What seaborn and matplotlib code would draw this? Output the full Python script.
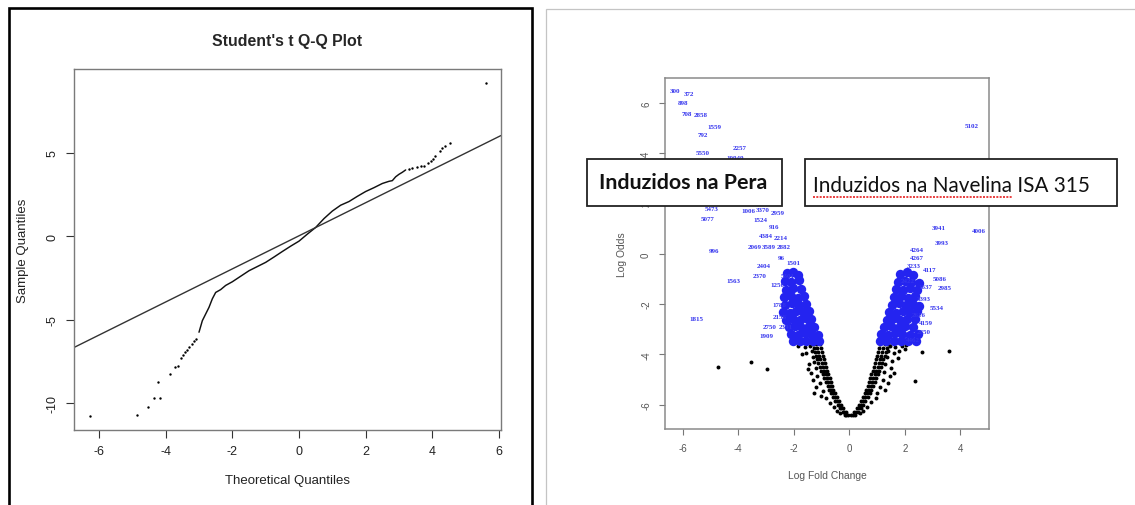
import matplotlib
matplotlib.use("Agg")
import matplotlib.pyplot as plt
import pandas as pd
import seaborn as sns
from matplotlib.patches import Rectangle
from matplotlib.lines import Line2D

sns.set_style("white")
plt.rcParams["font.family"] = ["Liberation Sans", "DejaVu Sans"]
plt.rcParams["axes.unicode_minus"] = False

# ---------------- Student's t Q-Q plot ----------------
qq_body_theo = [-3.0, -2.9, -2.8, -2.7, -2.6, -2.5, -2.35, -2.2, -2.0, -1.75, -1.5,
                -1.25, -1.0, -0.75, -0.5, -0.25, 0.0, 0.25, 0.5, 0.75, 1.0, 1.25,
                1.5, 1.75, 2.0, 2.25, 2.5, 2.7, 2.8, 2.9, 3.0, 3.1, 3.2]
qq_body_samp = [-5.75, -5.06, -4.66, -4.26, -3.75, -3.37, -3.2, -2.95, -2.73, -2.4,
                -2.07, -1.82, -1.57, -1.25, -0.92, -0.6, -0.3, 0.12, 0.52, 1.05,
                1.5, 1.85, 2.07, 2.38, 2.67, 2.9, 3.15, 3.28, 3.32, 3.55, 3.7, 3.82, 3.96]
qq_tail_theo = [-6.28, -4.86, -4.52, -4.34, -4.16, -4.23, -3.87, -3.72, -3.62, -3.55,
                -3.49, -3.42, -3.36, -3.3, -3.22, -3.15, -3.08,
                3.3, 3.4, 3.55, 3.65, 3.74, 3.86, 3.95, 4.02, 4.09, 4.22, 4.3, 4.38, 4.53, 5.6]
qq_tail_samp = [-10.78, -10.68, -10.24, -9.68, -9.68, -8.75, -8.25, -7.83, -7.78, -7.3,
                -7.11, -6.95, -6.8, -6.65, -6.45, -6.3, -6.15,
                4.0, 4.1, 4.14, 4.17, 4.2, 4.36, 4.5, 4.62, 4.8, 5.1, 5.25, 5.4, 5.6, 9.18]
qq_line_intercept = 0.02
qq_line_slope = 0.99
qq_xticks = [-6, -4, -2, 0, 2, 4, 6]
qq_yticks = [-10, -5, 0, 5]

# ---------------- Volcano plot ----------------
# highlighted genes: id, log fold change, log odds
gene_ids = ["300", "372", "898", "708", "2858", "1559", "792", "2257", "5550", "10949",
            "8486", "5473", "5077", "1006", "3370", "2959", "1524", "916", "4384", "2214",
            "996", "2069", "3589", "2882", "2404", "96", "1501", "2370", "1563", "1256",
            "5301", "1788", "2156", "1815", "2750", "2391", "1909",
            "5102", "3941", "4006", "3993", "4264", "4267", "3233", "4117", "2422",
            "5086", "2985", "1637", "3393", "5534", "2616", "4159", "2850", "4462"]
gene_lfc = [-6.27, -5.75, -5.97, -5.85, -5.35, -4.85, -5.27, -3.93, -5.27, -4.1,
            -6.0, -4.94, -5.10, -3.62, -3.1, -2.58, -3.2, -2.7, -3.0, -2.45,
            -4.88, -3.4, -2.88, -2.36, -3.08, -2.45, -2.0, -3.21, -4.16, -2.6,
            -2.2, -2.5, -2.5, -5.51, -2.85, -2.3, -2.98,
            4.42, 3.24, 4.66, 3.34, 2.44, 2.44, 2.32, 2.88, 2.1,
            3.25, 3.45, 2.75, 2.68, 3.16, 2.5, 2.75, 2.68, 2.3]
gene_lod = [6.49, 6.37, 6.04, 5.6, 5.55, 5.07, 4.74, 4.25, 4.02, 3.84,
            3.7, 1.82, 1.42, 1.71, 1.75, 1.65, 1.38, 1.08, 0.75, 0.65,
            0.13, 0.28, 0.28, 0.28, -0.47, -0.15, -0.35, -0.86, -1.06, -1.2,
            -0.85, -2.0, -2.5, -2.56, -2.88, -2.9, -3.25,
            5.11, 1.06, 0.93, 0.47, 0.18, -0.15, -0.48, -0.62, -1.05,
            -0.98, -1.35, -1.3, -1.79, -2.12, -2.4, -2.75, -3.1, -3.42]

# crowded highlighted genes (labels overlap into solid patches)
crowd_lfc = [-2.25, -2.02, -1.85, -2.32, -2.08, -1.8, -2.28, -2.03, -1.72,
             -2.33, -2.1, -1.86, -1.62, -2.3, -2.06, -1.8, -1.56,
             -2.38, -2.14, -1.9, -1.66, -1.46, -2.28, -2.03, -1.78, -1.54, -1.36,
             -2.18, -1.94, -1.7, -1.46, -1.26, -2.08, -1.84, -1.6, -1.36, -1.14,
             -2.02, -1.78, -1.54, -1.3, -1.09,
             1.82, 2.08, 2.3, 1.76, 2.0, 2.24, 2.5, 1.68, 1.93, 2.18, 2.44,
             1.6, 1.85, 2.1, 2.36, 1.54, 1.78, 2.03, 2.28, 2.52, 1.44, 1.69, 1.94, 2.19, 2.45,
             1.36, 1.6, 1.84, 2.09, 2.36, 1.26, 1.5, 1.75, 2.0, 2.28,
             1.16, 1.4, 1.65, 1.9, 2.18, 2.46, 1.1, 1.34, 1.6, 1.86, 2.12, 2.42]
crowd_lod = [-0.78, -0.72, -0.85, -1.08, -1.12, -1.05, -1.42, -1.36, -1.4,
             -1.72, -1.68, -1.74, -1.66, -2.02, -1.96, -2.04, -1.98,
             -2.3, -2.34, -2.26, -2.32, -2.28, -2.62, -2.58, -2.64, -2.56, -2.6,
             -2.92, -2.86, -2.94, -2.88, -2.9, -3.18, -3.22, -3.16, -3.2, -3.24,
             -3.45, -3.45, -3.45, -3.45, -3.45,
             -0.82, -0.74, -0.86, -1.12, -1.06, -1.1, -1.14, -1.38, -1.44, -1.36, -1.42,
             -1.72, -1.66, -1.74, -1.68, -2.02, -1.96, -2.04, -1.98, -2.06, -2.3, -2.34, -2.26, -2.32, -2.28,
             -2.62, -2.56, -2.64, -2.58, -2.6, -2.92, -2.86, -2.94, -2.88, -2.9,
             -3.18, -3.22, -3.16, -3.2, -3.24, -3.18, -3.45, -3.45, -3.45, -3.45, -3.45, -3.45]

# remaining genes (black points)
arm_lod = [-3.6, -3.75, -3.9, -4.05, -4.2, -4.35, -4.5, -4.65, -4.8, -4.95,
           -5.1, -5.25, -5.4, -5.55, -5.7, -5.85, -6.0, -6.15, -6.3, -6.42]
left_inner = [-1.06, -1.03, -0.99, -0.95, -0.91, -0.87, -0.83, -0.79, -0.75, -0.71,
              -0.67, -0.62, -0.57, -0.51, -0.45, -0.38, -0.3, -0.22, -0.13, -0.04]
left_mid = [-1.2, -1.16, -1.12, -1.08, -1.04, -0.99, -0.95, -0.9, -0.85, -0.8,
            -0.75, -0.7, -0.64, -0.58, -0.51, -0.44, -0.36, -0.28, -0.19, -0.1]
left_outer = [-1.32, -1.28, -1.24, -1.2, -1.16, -1.11, -1.06, -1.01, -0.96, -0.9,
              -0.84, -0.78, -0.72, -0.65, -0.57, -0.5, -0.42, -0.33, -0.24, -0.15]
right_inner = [1.12, 1.08, 1.04, 1.0, 0.96, 0.92, 0.88, 0.84, 0.8, 0.76,
               0.72, 0.67, 0.62, 0.56, 0.5, 0.43, 0.35, 0.27, 0.17, 0.07]
right_mid = [1.27, 1.23, 1.19, 1.15, 1.11, 1.07, 1.02, 0.97, 0.92, 0.87,
             0.82, 0.77, 0.71, 0.65, 0.58, 0.51, 0.43, 0.34, 0.24, 0.13]
right_outer = [1.4, 1.36, 1.32, 1.27, 1.23, 1.18, 1.13, 1.08, 1.03, 0.98,
               0.92, 0.86, 0.8, 0.73, 0.66, 0.58, 0.5, 0.41, 0.31, 0.19]
spread_lfc = [-1.4, -1.6, -1.85, -1.35, -1.55, -1.3, -1.7, -1.25, -1.45, -1.2, -1.38,
              -1.15, -1.3, -1.05, -1.2, -0.95, -1.0, -0.85, -0.7, -0.55, -0.45, -0.35,
              -1.5, -1.25,
              1.45, 1.65, 1.9, 2.05, 1.4, 1.6, 1.8, 1.35, 1.55, 1.75, 1.3, 1.5, 1.25,
              1.45, 1.2, 1.4, 1.1, 1.3, 1.0, 0.95, 0.8, 0.65, 0.5, 0.4, 1.6,
              -4.74, -3.55, -2.95, 2.02, 2.62, 3.6, 2.35]
spread_lod = [-3.65, -3.7, -3.65, -3.85, -3.95, -4.1, -4.0, -4.3, -4.4, -4.55, -4.75,
              -4.85, -5.0, -5.15, -5.3, -5.45, -5.65, -5.75, -5.95, -6.1, -6.25, -6.35,
              -4.6, -5.55,
              -3.65, -3.7, -3.68, -3.62, -3.85, -3.95, -3.85, -4.1, -4.25, -4.15, -4.4,
              -4.55, -4.7, -4.85, -5.0, -5.15, -5.3, -5.4, -5.55, -5.75, -5.9, -6.1,
              -6.25, -6.35, -4.75,
              -4.52, -4.29, -4.6, -3.78, -3.92, -3.85, -5.07]
vol_xticks = [-6, -4, -2, 0, 2, 4]
vol_yticks = [-6, -4, -2, 0, 2, 4, 6]

W, H = 1135, 506
fig = plt.figure(figsize=(W / 100, H / 100), dpi=100)
fig.patch.set_facecolor("white")


def px_axes(left, top, right, bottom):
    return fig.add_axes([left / W, 1 - bottom / H, (right - left) / W, (bottom - top) / H])


def px_rect(left, top, right, bottom, **kw):
    r = Rectangle((left / W, 1 - bottom / H), (right - left) / W, (bottom - top) / H,
                  transform=fig.transFigure, clip_on=False, **kw)
    fig.add_artist(r)
    return r


# panel frames
px_rect(8.5, 8.5, 532, 540, fill=False, ec="black", lw=1.9, zorder=1)
px_rect(546, 10, 1300, 600, fill=False, ec="#c4c4c4", lw=0.9, zorder=1)

# ---- left: Q-Q plot ----
ax1 = px_axes(74, 70, 501, 431)
body = pd.DataFrame({"theo": qq_body_theo, "samp": qq_body_samp})
tail = pd.DataFrame({"theo": qq_tail_theo, "samp": qq_tail_samp})
sns.lineplot(data=body, x="theo", y="samp", sort=False, color="#111111", lw=1.05, ax=ax1)
sns.scatterplot(data=tail, x="theo", y="samp", color="black", s=3, linewidth=0, ax=ax1)
ax1.axline((0, qq_line_intercept), slope=qq_line_slope, color="#333333", lw=1.0)
ax1.set_xlim(-6.75, 6.06)
ax1.set_ylim(-11.6, 10.0)
ax1.set_xticks(qq_xticks, labels=[str(v) for v in qq_xticks])
ax1.set_yticks(qq_yticks, labels=[str(v) for v in qq_yticks], rotation=90, va="center")
for sp in ax1.spines.values():
    sp.set_color("#7a7a7a")
    sp.set_linewidth(1.0)
ax1.tick_params(axis="both", direction="out", length=6, width=0.8, color="#333333",
                labelsize=9, labelcolor="#222222")
ax1.tick_params(axis="x", bottom=True, pad=5)
ax1.tick_params(axis="y", left=True, pad=5)
ax1.set_xlabel("Theoretical Quantiles", fontsize=9.5, color="#222222", labelpad=12)
ax1.set_ylabel("Sample Quantiles", fontsize=9.5, color="#222222", labelpad=13)
ax1.set_title("Student's t Q-Q Plot", fontsize=11.4, fontweight="bold", pad=17)

# ---- right: volcano plot ----
ax2 = px_axes(665, 79, 989, 430)
rest = pd.DataFrame({
    "lfc": left_inner + left_mid + left_outer + right_inner + right_mid + right_outer
    + spread_lfc,
    "lod": arm_lod * 6 + spread_lod,
})
sns.scatterplot(data=rest, x="lfc", y="lod", color="black", s=8, linewidth=0, ax=ax2)
crowd = pd.DataFrame({"lfc": crowd_lfc, "lod": crowd_lod})
sns.scatterplot(data=crowd, x="lfc", y="lod", color="#2424f0", marker="o", s=46,
                linewidth=0, ax=ax2)
for gid, gx, gy in zip(gene_ids, gene_lfc, gene_lod):
    ax2.text(gx, gy, gid, color="#3434ee", fontsize=5, ha="center", va="center",
             family="Liberation Serif", fontweight="bold")
ax2.set_xlim(-6.63, 5.03)
ax2.set_ylim(-6.97, 7.0)
ax2.set_xticks(vol_xticks, labels=[str(v) for v in vol_xticks])
ax2.set_yticks(vol_yticks, labels=[str(v) for v in vol_yticks], rotation=90, va="center")
for sp in ax2.spines.values():
    sp.set_color("#8a8a8a")
    sp.set_linewidth(1.1)
ax2.tick_params(axis="both", direction="out", length=4, width=0.8, color="#777777",
                labelsize=7, labelcolor="#555555")
ax2.tick_params(axis="x", bottom=True, pad=6)
ax2.tick_params(axis="y", left=True, pad=6)
ax2.set_xlabel("Log Fold Change", fontsize=7.4, color="#555555", labelpad=12)
ax2.set_ylabel("Log Odds", fontsize=7.4, color="#555555", labelpad=10)

# ---- annotation boxes ----
px_rect(587, 160, 782, 207, fc="white", ec="#222222", lw=1.3, zorder=10)
px_rect(805, 160, 1117, 207, fc="white", ec="#222222", lw=1.3, zorder=10)

renderer = fig.canvas.get_renderer()


def fitted_text(x, y, s, width, weight):
    t = fig.text(x / W, 1 - y / H, s, fontsize=16, family="Lato", fontweight=weight,
                 color="#111111", va="baseline", ha="left", zorder=11)
    w = t.get_window_extent(renderer).width
    t.set_fontsize(16 * width / w)
    return t


fitted_text(599, 189.5, "Induzidos na Pera", 169, "bold")
t_right = fitted_text(813, 192.5, "Induzidos na Navelina ISA 315", 279, "normal")

# spell-check underline beneath the first words
probe = fig.text(0, 0, "Induzidos na Navelina", fontsize=t_right.get_fontsize(),
                 family="Lato", fontweight="normal")
u_w = probe.get_window_extent(renderer).width
probe.remove()
fig.add_artist(Line2D([813 / W, (813 + u_w) / W], [1 - 197.5 / H, 1 - 197.5 / H],
                      transform=fig.transFigure, color="#e62020", lw=1.2,
                      linestyle=(0, (1.2, 0.8)), zorder=12))

fig.savefig("out.png", dpi=100, facecolor="white")
